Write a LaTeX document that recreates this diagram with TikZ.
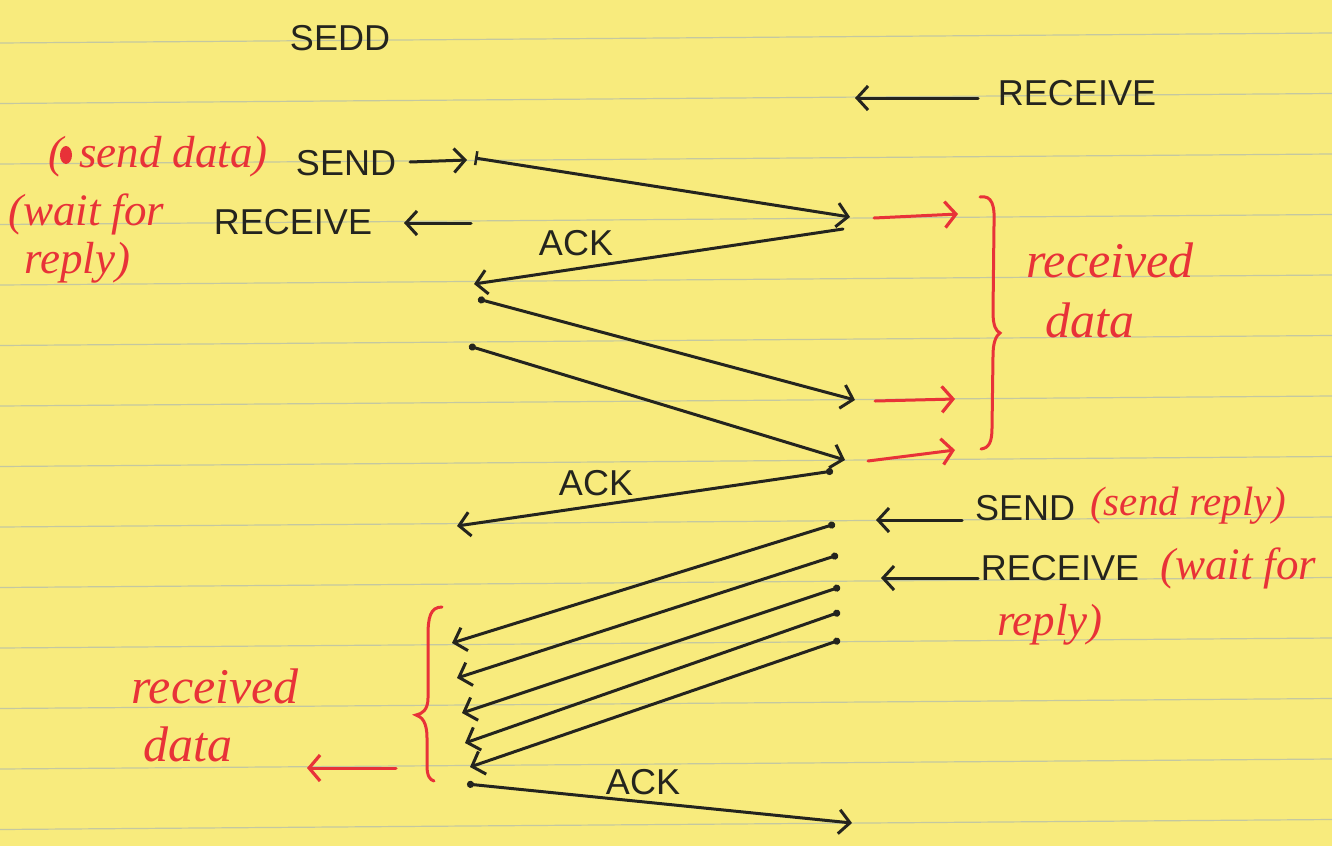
\documentclass[tikz,border=0pt]{standalone}
\usepackage{fontspec}
\setmainfont{Liberation Serif}
\setsansfont{Liberation Sans}
\usetikzlibrary{arrows.meta}
\definecolor{paper}{RGB}{248,235,125}
\definecolor{rule}{RGB}{196,200,160}
\definecolor{inkc}{RGB}{36,36,30}
\definecolor{redc}{RGB}{232,50,56}
\tikzset{
  ink/.style={draw=inkc, line width=3pt, line cap=round},
  redink/.style={draw=redc, line width=3pt, line cap=round},
  tipb/.tip={Straight Barb[length=11pt,width=24pt,line width=3pt]},
  arr/.style={ink, -tipb},
  darr/.style={ink, {Circle[length=7pt]}-tipb},
  barr/.style={ink, {Bar[width=14pt,line width=2.5pt]}-tipb},
  rarr/.style={redink, -{Straight Barb[length=11pt,width=26pt,line width=3.2pt]}},
  lab/.style={font=\sffamily\fontsize{36}{40}\selectfont, text=inkc, inner sep=0pt},
  rlab/.style={font=\itshape\fontsize{45}{48}\selectfont, text=redc, inner sep=0pt},
  rsmall/.style={rlab, font=\itshape\fontsize{41}{44}\selectfont},
  rbig/.style={rlab, font=\itshape\fontsize{50}{54}\selectfont},
  ruleline/.style={draw=rule, line width=1.2pt}
}
\begin{document}
\begin{tikzpicture}[x=1pt,y=-1pt]
\useasboundingbox (0,0) rectangle (1332,846);
\fill[paper] (0,0) rectangle (1332,846);
% ruled lines
\foreach \k in {0,...,13}{
  \draw[ruleline] (0,{43+60.5*\k}) -- (1332,{33+60.5*\k});
}
% ---- texts ----
\node[lab] (sedd) at (340,38) {SEDD};
\node[lab] (recvTop) at (1077,93) {RECEIVE};
\node[lab] (sendL) at (346,163) {SEND};
\node[lab] (recvL) at (293,222) {RECEIVE};
\node[rlab] (sendData) at (158,157) {(\hspace{16pt}send data)};
\fill[redc] (66,155) ellipse (6pt and 9pt);
\node[rlab, anchor=west] (waitL1) at (8,214) {(wait for};
\node[rlab, anchor=west] (waitL2) at (24,263) {reply)};
\node[lab] (ack1) at (576,243) {ACK};
\node[lab] (ack2) at (596,483) {ACK};
\node[lab] (ack3) at (643,782) {ACK};
\node[rbig] (recdR1) at (1110,260) {received};
\node[rbig] (recdR2) at (1090,320) {data};
\node[lab] (sendR) at (1025,508) {SEND};
\node[rsmall] (sendReply) at (1188,506) {(send reply)};
\node[lab] (recvR) at (1060,568) {RECEIVE};
\node[rlab, anchor=west] (waitR1) at (1160,568) {(wait for};
\node[rlab] (waitR2) at (1050,625) {reply)};
\node[rbig] (recdL1) at (215,686) {received};
\node[rbig] (recdL2) at (188,744) {data};
% ---- coordinates ----
\coordinate (topA) at (978,98);   \coordinate (topB) at (855,98);
\coordinate (sA) at (410,162);    \coordinate (sB) at (467,160);
\coordinate (rA) at (471,223);    \coordinate (rB) at (404,223);
\coordinate (l1a) at (475,158);   \coordinate (l1b) at (850,217);
\coordinate (k1a) at (843,229);   \coordinate (k1b) at (474,284);
\coordinate (l2a) at (478,299);   \coordinate (l2b) at (855,400);
\coordinate (l3a) at (469,346);   \coordinate (l3b) at (845,460);
\coordinate (k2a) at (833,471);   \coordinate (k2b) at (457,526);
\coordinate (red1a) at (874,218); \coordinate (red1b) at (958,214);
\coordinate (red2a) at (875,401); \coordinate (red2b) at (955,399);
\coordinate (red3a) at (868,461); \coordinate (red3b) at (955,450);
\coordinate (srA) at (962,520);   \coordinate (srB) at (876,520);
\coordinate (rrA) at (978,578);   \coordinate (rrB) at (881,578);
\coordinate (m1a) at (835,524);   \coordinate (m1b) at (452,643);
\coordinate (m2a) at (838,555);   \coordinate (m2b) at (457,678);
\coordinate (m3a) at (840,587);   \coordinate (m3b) at (462,713);
\coordinate (m4a) at (840,612);   \coordinate (m4b) at (465,743);
\coordinate (m5a) at (840,640);   \coordinate (m5b) at (470,767);
\coordinate (redLa) at (396,768); \coordinate (redLb) at (307,768);
\coordinate (k3a) at (467,784);   \coordinate (k3b) at (852,823);
% ---- black arrows ----
\draw[arr] (topA) -- (topB);
\draw[arr] (sA) -- (sB);
\draw[arr] (rA) -- (rB);
\draw[barr] (l1a) -- (l1b);
\draw[arr] (k1a) -- (k1b);
\draw[darr] (l2a) -- (l2b);
\draw[darr] (l3a) -- (l3b);
\draw[darr] (k2a) -- (k2b);
\draw[arr] (srA) -- (srB);
\draw[arr] (rrA) -- (rrB);
\draw[darr] (m1a) -- (m1b);
\draw[darr] (m2a) -- (m2b);
\draw[darr] (m3a) -- (m3b);
\draw[darr] (m4a) -- (m4b);
\draw[darr] (m5a) -- (m5b);
\draw[darr] (k3a) -- (k3b);
% ---- red arrows ----
\draw[rarr] (red1a) -- (red1b);
\draw[rarr] (red2a) -- (red2b);
\draw[rarr] (red3a) -- (red3b);
\draw[rarr] (redLa) -- (redLb);
% ---- braces ----
\draw[redink] (980,197) .. controls (992,195) and (995,205) .. (994,225)
  -- (993,312) .. controls (993,326) and (996,331) .. (1000,333)
  .. controls (996,336) and (993,342) .. (993,356)
  -- (992,428) .. controls (992,442) and (989,448) .. (981,449);
\draw[redink] (442,607) .. controls (430,607) and (428,618) .. (428,636)
  -- (428,698) .. controls (428,710) and (422,714) .. (416,715)
  .. controls (422,717) and (427,722) .. (427,738)
  -- (427,766) .. controls (427,776) and (430,780) .. (434,781);
\end{tikzpicture}
\end{document}
